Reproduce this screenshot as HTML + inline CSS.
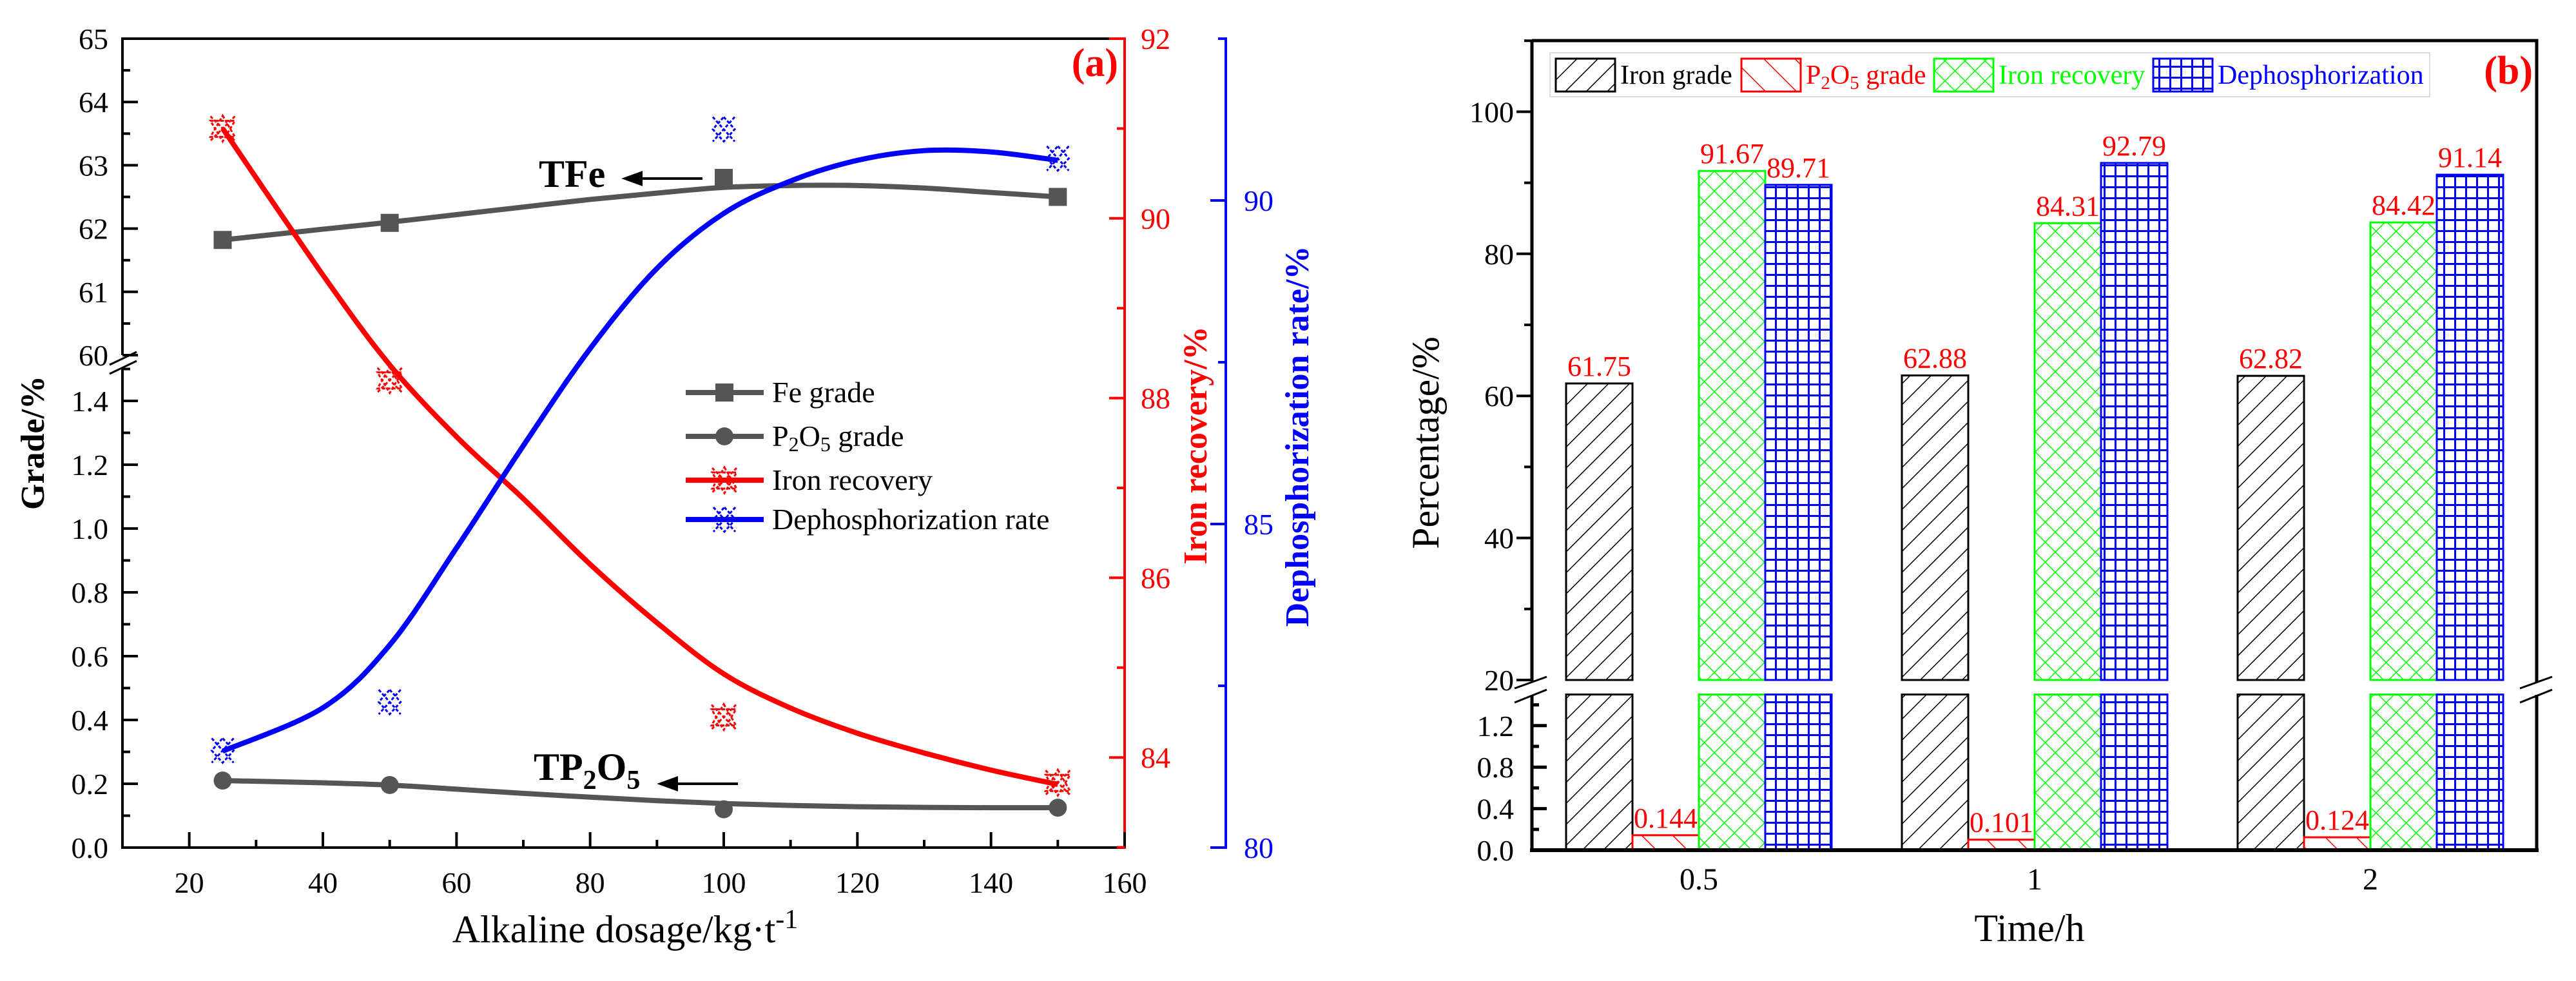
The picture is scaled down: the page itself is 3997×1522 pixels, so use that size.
<!DOCTYPE html>
<html><head><meta charset="utf-8"><style>
html,body{margin:0;padding:0;background:#fff}
svg, svg text{font-family:"Liberation Serif","DejaVu Serif",serif}
</style></head><body>
<svg id="fig" width="3997" height="1517" viewBox="0 0 3997 1517" xmlns="http://www.w3.org/2000/svg" font-family="Liberation Serif, DejaVu Serif, serif">
<defs>
<pattern id="hBlack" patternUnits="userSpaceOnUse" width="23" height="23" patternTransform="rotate(45)"><rect width="23" height="23" fill="#fff"/><line x1="0" y1="0" x2="0" y2="23" stroke="#000" stroke-width="3"/></pattern>
<pattern id="hRed" patternUnits="userSpaceOnUse" width="34" height="34" patternTransform="rotate(-45)"><rect width="34" height="34" fill="#fff"/><line x1="0" y1="0" x2="0" y2="34" stroke="#f00" stroke-width="3"/></pattern>
<pattern id="hGreen" patternUnits="userSpaceOnUse" width="22" height="22" patternTransform="rotate(45)"><rect width="22" height="22" fill="#fff"/><line x1="0" y1="0" x2="0" y2="22" stroke="#0f0" stroke-width="3"/><line x1="0" y1="0" x2="22" y2="0" stroke="#0f0" stroke-width="3"/></pattern>
<pattern id="hBlue" patternUnits="userSpaceOnUse" width="17" height="17"><rect width="17" height="17" fill="#fff"/><line x1="1.5" y1="0" x2="1.5" y2="17" stroke="#00f" stroke-width="3"/><line x1="0" y1="1.5" x2="17" y2="1.5" stroke="#00f" stroke-width="3"/></pattern>
</defs>
<g id="left"></g>
<g id="right"></g>
</svg>
<script>
// ---- chart (a) data ----
const dosage = [25, 50, 100, 150];
const feGrade = [61.82, 62.09, 62.80, 62.50];
const p2o5Grade = [0.21, 0.196, 0.12, 0.125];
const ironRecovery = [91.0, 88.2, 84.45, 83.72];
const dephosRate = [81.5, 82.25, 91.1, 90.65];
const fitX = [25, 40, 50, 60, 70, 80, 90, 100, 110, 120, 130, 140, 150];
const feFit = [61.82, 61.99, 62.1, 62.22, 62.34, 62.46, 62.56, 62.65, 62.68, 62.68, 62.64, 62.57, 62.5];
const p2o5Fit = [0.21, 0.203, 0.196, 0.183, 0.17, 0.158, 0.147, 0.138, 0.132, 0.128, 0.126, 0.125, 0.125];
const recFit = [91.0, 89.37, 88.37, 87.57, 86.88, 86.15, 85.5, 84.93, 84.55, 84.27, 84.05, 83.86, 83.7];
const dephFit = [81.49, 82.16, 83.13, 84.63, 86.21, 87.71, 88.95, 89.8, 90.3, 90.62, 90.77, 90.75, 90.62];
const xTicksA = [20, 40, 60, 80, 100, 120, 140, 160];
const feTicks = [60, 61, 62, 63, 64, 65];
const pTicks = [0.0, 0.2, 0.4, 0.6, 0.8, 1.0, 1.2, 1.4];
const recTicks = [84, 86, 88, 90, 92];
const dephTicks = [80, 85, 90];
// ---- chart (b) data ----
const times = ["0.5", "1", "2"];
const ironGradeB = [61.75, 62.88, 62.82];
const p2o5GradeB = [0.144, 0.101, 0.124];
const ironRecoveryB = [91.67, 84.31, 84.42];
const dephosB = [89.71, 92.79, 91.14];
const upperTicksB = [20, 40, 60, 80, 100];
const lowerTicksB = [0.0, 0.4, 0.8, 1.2];

const NS = "http://www.w3.org/2000/svg";
const FF = "Liberation Serif, DejaVu Serif, serif";
function mk(parent, tag, attrs, text) {
  const e = document.createElementNS(NS, tag);
  for (const k in attrs) e.setAttribute(k, attrs[k]);
  if (tag === "text") e.setAttribute("font-family", FF);
  if (text !== undefined) e.textContent = text;
  parent.appendChild(e);
  return e;
}
function crPath(pts) {
  let d = "M" + pts[0][0] + "," + pts[0][1];
  for (let i = 0; i < pts.length - 1; i++) {
    const p0 = pts[Math.max(0, i - 1)], p1 = pts[i], p2 = pts[i + 1], p3 = pts[Math.min(pts.length - 1, i + 2)];
    const c1 = [p1[0] + (p2[0] - p0[0]) / 6, p1[1] + (p2[1] - p0[1]) / 6];
    const c2 = [p2[0] - (p3[0] - p1[0]) / 6, p2[1] - (p3[1] - p1[1]) / 6];
    d += " C" + c1 + " " + c2 + " " + p2;
  }
  return d;
}

// ===== Chart A =====
const A = document.getElementById("left");
const AX0 = 190, AX1 = 1745, AT = 60, AB = 1315, BLUEX = 1902;
const xA = v => AX0 + (v - 10) * (AX1 - AX0) / 150;
const yFe = v => 60 + (65 - v) * 98.2;
const yP = v => 1315 - v * 495;
const yR = v => 60 + (92 - v) * 139.4;
const yB = v => 1315 - (v - 80) * 100.4;

let e;
e = mk(A, "line", {x1: AX0, y1: AT, x2: AX0, y2: 551, stroke: "#000", "stroke-width": 4});
 
e = mk(A, "line", {x1: AX0, y1: 572, x2: AX0, y2: AB, stroke: "#000", "stroke-width": 4});
 
e = mk(A, "line", {x1: AX0 - 2, y1: AB, x2: AX1, y2: AB, stroke: "#000", "stroke-width": 4});
 
e = mk(A, "line", {x1: AX0 - 2, y1: AT, x2: AX1, y2: AT, stroke: "#000", "stroke-width": 4});
 
e = mk(A, "line", {x1: AX1, y1: AT - 2, x2: AX1, y2: AB + 2, stroke: "#f00", "stroke-width": 4});
 
e = mk(A, "line", {x1: BLUEX, y1: AT - 2, x2: BLUEX, y2: AB + 2, stroke: "#00f", "stroke-width": 4});
 
e = mk(A, "path", {d: "M170,566 L212,546 M170,580 L212,560", stroke: "#000", "stroke-width": 3, fill: "none"});
 

xTicksA.forEach(v => {
  const x = xA(v);
  e = mk(A, "line", {x1: x, y1: AB, x2: x, y2: AB - 24, stroke: "#000", "stroke-width": 4});
   
  if (v < 160) { e = mk(A, "line", {x1: xA(v + 10), y1: AB, x2: xA(v + 10), y2: AB - 12, stroke: "#000", "stroke-width": 4});   }
  e = mk(A, "text", {x: x, y: AB + 70, "font-size": 46, "text-anchor": "middle", fill: "#000"}, String(v));
   
});
feTicks.forEach(v => {
  const y = yFe(v);
  e = mk(A, "line", {x1: AX0, y1: y, x2: AX0 + 24, y2: y, stroke: "#000", "stroke-width": 4});
   
  if (v < 65) { e = mk(A, "line", {x1: AX0, y1: yFe(v + 0.5), x2: AX0 + 12, y2: yFe(v + 0.5), stroke: "#000", "stroke-width": 4});   }
  e = mk(A, "text", {x: AX0 - 22, y: y + 16, "font-size": 46, "text-anchor": "end"}, String(v));
   
});
pTicks.forEach(v => {
  const y = yP(v);
  e = mk(A, "line", {x1: AX0, y1: y, x2: AX0 + 24, y2: y, stroke: "#000", "stroke-width": 4});
   
  e = mk(A, "line", {x1: AX0, y1: yP(v + 0.1), x2: AX0 + 12, y2: yP(v + 0.1), stroke: "#000", "stroke-width": 4});
   
  e = mk(A, "text", {x: AX0 - 22, y: y + 16, "font-size": 46, "text-anchor": "end"}, v.toFixed(1));
   
});
recTicks.forEach(v => {
  const y = yR(v);
  e = mk(A, "line", {x1: AX1, y1: y, x2: AX1 - 24, y2: y, stroke: "#f00", "stroke-width": 4});
   
  e = mk(A, "line", {x1: AX1, y1: yR(v - 1), x2: AX1 - 12, y2: yR(v - 1), stroke: "#f00", "stroke-width": 4});
   
  e = mk(A, "text", {x: AX1 + 25, y: y + 16, "font-size": 46, fill: "#f00"}, String(v));
   
});
dephTicks.forEach(v => {
  const y = yB(v);
  e = mk(A, "line", {x1: BLUEX, y1: y, x2: BLUEX - 24, y2: y, stroke: "#00f", "stroke-width": 4});
   
  e = mk(A, "line", {x1: BLUEX, y1: yB(v + 2.5), x2: BLUEX - 12, y2: yB(v + 2.5), stroke: "#00f", "stroke-width": 4});
   
  e = mk(A, "text", {x: BLUEX + 28, y: y + 16, "font-size": 46, fill: "#00f"}, String(v));
   
});

function curve(vals, yf, color, name) {
  const pts = fitX.map((x, i) => [xA(x), yf(vals[i])]);
  const p = mk(A, "path", {d: crPath(pts), stroke: color, "stroke-width": 8, fill: "none"});
  
  
}
curve(feFit, yFe, "#555", "fe-grade-line");
curve(p2o5Fit, yP, "#555", "p2o5-grade-line");
curve(recFit, yR, "#f00", "iron-recovery-line");
curve(dephFit, yB, "#00f", "dephosphorization-line");

function square(g, x, y) { return mk(g, "rect", {x: x - 14, y: y - 14, width: 28, height: 28, fill: "#555"}); }
function circle(g, x, y) { return mk(g, "circle", {cx: x, cy: y, r: 14, fill: "#555"}); }
function starTri(g, x, y) {
  return mk(g, "path", {d: `M${x},${y-20} L${x+19},${y+13} L${x-19},${y+13} Z M${x-19},${y-12} L${x+19},${y-12} L${x},${y+20} Z M${x-19},${y-19} L${x+19},${y+19} M${x+19},${y-19} L${x-19},${y+19}`, stroke: "#f00", "stroke-width": 3, fill: "none", "stroke-dasharray": "5 3"});
}
function xDiamond(g, x, y) {
  return mk(g, "path", {d: `M${x-17},${y-19} L${x+17},${y+19} M${x+17},${y-19} L${x-17},${y+19} M${x},${y-19} L${x+17},${y} L${x},${y+19} L${x-17},${y} Z`, stroke: "#00f", "stroke-width": 3, fill: "none", "stroke-dasharray": "5 3"});
}
dosage.forEach((d, i) => {
  e = square(A, xA(d), yFe(feGrade[i]));
   
  e = circle(A, xA(d), yP(p2o5Grade[i]));
   
  e = starTri(A, xA(d), yR(ironRecovery[i]));
   
  e = xDiamond(A, xA(d), yB(dephosRate[i]));
   
});

e = mk(A, "text", {x: 836, y: 290, "font-size": 60, "font-weight": "bold"}, "TFe");
 
e = mk(A, "path", {d: "M1090,277 L975,277 M970,277 L995,268 L995,286 Z", stroke: "#000", "stroke-width": 4, fill: "#000"});
 
e = mk(A, "text", {x: 828, y: 1210, "font-size": 60, "font-weight": "bold"});
 
e.innerHTML = 'TP<tspan font-size="42" dy="14">2</tspan><tspan dy="-14">O</tspan><tspan font-size="42" dy="14">5</tspan>';
e = mk(A, "path", {d: "M1145,1216 L1030,1216 M1025,1216 L1050,1207 L1050,1225 Z", stroke: "#000", "stroke-width": 4, fill: "#000"});
 
e = mk(A, "text", {x: 1735, y: 118, "font-size": 62, "font-weight": "bold", fill: "#f00", "text-anchor": "end"}, "(a)");
 

e = mk(A, "text", {x: 970, y: 1462, "font-size": 60, "text-anchor": "middle"});
 
e.innerHTML = 'Alkaline dosage/kg·t<tspan font-size="42" dy="-22">-1</tspan>';
e = mk(A, "text", {x: 0, y: 0, "font-size": 52, "font-weight": "bold", "text-anchor": "middle", transform: "translate(68,687) rotate(-90)"}, "Grade/%");
 
e = mk(A, "text", {x: 0, y: 0, "font-size": 52, "font-weight": "bold", fill: "#f00", "text-anchor": "middle", transform: "translate(1872,691) rotate(-90)"}, "Iron recovery/%");
 
e = mk(A, "text", {x: 0, y: 0, "font-size": 52, "font-weight": "bold", fill: "#00f", "text-anchor": "middle", transform: "translate(2030,677) rotate(-90)"}, "Dephosphorization rate/%");
 

const legA = [["Fe grade", "#555", square], ["P2O5 grade", "#555", circle], ["Iron recovery", "#f00", starTri], ["Dephosphorization rate", "#00f", xDiamond]];
const legY = [609, 677, 745, 806];
legA.forEach((L, i) => {
  const g = mk(A, "g", {});
  
  
  mk(g, "line", {x1: 1064, y1: legY[i], x2: 1185, y2: legY[i], stroke: L[1], "stroke-width": 8});
  L[2](g, 1124, legY[i]);
  const t = mk(g, "text", {x: 1198, y: legY[i] + 15, "font-size": 46});
  if (i === 1) t.innerHTML = 'P<tspan font-size="32" dy="8">2</tspan><tspan dy="-8">O</tspan><tspan font-size="32" dy="8">5</tspan><tspan dy="-8"> grade</tspan>';
  else t.textContent = L[0];
});

// ===== Chart B =====
const B = document.getElementById("right");
const BX0 = 2377, BX1 = 3936, BT = 63, BB = 1319;
const yU = v => 1055 - (v - 20) * 11.02;
const yL = v => 1319 - v * 161;
const xC = i => 2636 + i * 521;
const BW = 103;

const series = [[ironGradeB, "#000", "url(#hBlack)", "iron-grade-bar"], [p2o5GradeB, "#f00", "url(#hRed)", "p2o5-grade-bar"], [ironRecoveryB, "#0f0", "url(#hGreen)", "iron-recovery-bar"], [dephosB, "#00f", "url(#hBlue)", "dephosphorization-bar"]];
series.forEach((s, k) => {
  s[0].forEach((v, i) => {
    const x = xC(i) + (k - 2) * BW;
    if (v > 20) {
      e = mk(B, "rect", {x: x, y: yU(v), width: BW, height: yU(20) - yU(v), fill: s[2], stroke: s[1], "stroke-width": 3});
       
      e = mk(B, "rect", {x: x, y: yL(1.5), width: BW, height: yL(0) - yL(1.5), fill: s[2], stroke: s[1], "stroke-width": 3});
       
      e = mk(B, "text", {x: x + BW / 2, y: yU(v) - 12, "font-size": 44, fill: "#f00", "text-anchor": "middle"}, v.toFixed(2));
    } else {
      e = mk(B, "rect", {x: x, y: yL(v), width: BW, height: yL(0) - yL(v), fill: s[2], stroke: s[1], "stroke-width": 3});
       
      e = mk(B, "text", {x: x + BW / 2, y: yL(v) - 12, "font-size": 44, fill: "#f00", "text-anchor": "middle"}, v.toFixed(3));
    }
     
  });
});
e = mk(B, "path", {d: `M${BX0},${BT} L${BX1},${BT} L${BX1},1058 M${BX1},1078 L${BX1},${BB}`, stroke: "#000", "stroke-width": 5, fill: "none"});
 
e = mk(B, "line", {x1: BX0 - 3, y1: BB, x2: BX1 + 3, y2: BB, stroke: "#000", "stroke-width": 6});
 
e = mk(B, "path", {d: `M${BX0},${BT} L${BX0},1057 M${BX0},1079 L${BX0},${BB}`, stroke: "#000", "stroke-width": 5, fill: "none"});
 
e = mk(B, "path", {d: `M2350,1068 L2400,1050 M2350,1090 L2400,1070 M3910,1068 L3960,1050 M3910,1090 L3960,1070`, stroke: "#000", "stroke-width": 3, fill: "none"});
 
upperTicksB.forEach(v => {
  e = mk(B, "line", {x1: BX0, y1: yU(v), x2: BX0 - 24, y2: yU(v), stroke: "#000", "stroke-width": 4});
   
  e = mk(B, "line", {x1: BX0, y1: yU(v + 10), x2: BX0 - 12, y2: yU(v + 10), stroke: "#000", "stroke-width": 4});
   
  e = mk(B, "text", {x: BX0 - 28, y: yU(v) + 16, "font-size": 46, "text-anchor": "end"}, String(v));
   
});
lowerTicksB.forEach(v => {
  e = mk(B, "line", {x1: BX0, y1: yL(v), x2: BX0 + 23, y2: yL(v), stroke: "#000", "stroke-width": 5});
   
  e = mk(B, "line", {x1: BX0, y1: yL(v + 0.2), x2: BX0 + 11, y2: yL(v + 0.2), stroke: "#000", "stroke-width": 5});
   
  e = mk(B, "text", {x: BX0 - 28, y: yL(v) + 16, "font-size": 46, "text-anchor": "end"}, v.toFixed(1));
   
});
times.forEach((t, i) => {
  e = mk(B, "text", {x: xC(i), y: 1380, "font-size": 48, "text-anchor": "middle"}, t);
   
});
e = mk(B, "text", {x: 3149, y: 1460, "font-size": 60, "text-anchor": "middle"}, "Time/h");
 
e = mk(B, "text", {x: 0, y: 0, "font-size": 60, "text-anchor": "middle", transform: "translate(2232,687) rotate(-90)"}, "Percentage/%");
 
e = mk(B, "text", {x: 3930, y: 130, "font-size": 62, "font-weight": "bold", fill: "#f00", "text-anchor": "end"}, "(b)");
 
e = mk(B, "rect", {x: 2405, y: 82, width: 1365, height: 68, fill: "#fff", stroke: "#ddd", "stroke-width": 2});
 
const legBx = [2414, 2702, 3001, 3341];
const legBn = ["Iron grade", "P2O5 grade", "Iron recovery", "Dephosphorization"];
series.forEach((s, k) => {
  const g = mk(B, "g", {});
  
  
  mk(g, "rect", {x: legBx[k], y: 91, width: 92, height: 51, fill: s[2], stroke: s[1], "stroke-width": 3});
  const t = mk(g, "text", {x: legBx[k] + 100, y: 130, "font-size": 42, fill: s[1]});
  if (k === 1) t.innerHTML = 'P<tspan font-size="29" dy="8">2</tspan><tspan dy="-8">O</tspan><tspan font-size="29" dy="8">5</tspan><tspan dy="-8"> grade</tspan>';
  else t.textContent = legBn[k];
});
</script>
</body></html>
